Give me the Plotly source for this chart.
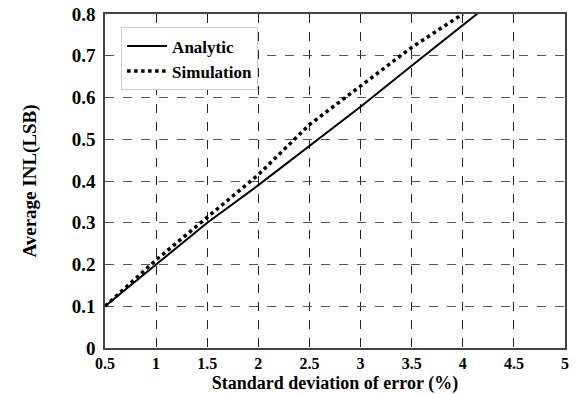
import plotly.graph_objects as go

x_analytic = [0.5, 1.0, 1.5, 2.0, 2.5, 3.0, 3.5, 4.0, 4.2]
y_analytic = [0.10, 0.199, 0.300, 0.390, 0.485, 0.578, 0.676, 0.775, 0.812]

x_sim = [0.5, 1.0, 1.5, 2.0, 2.5, 3.0, 3.5, 4.0]
y_sim = [0.10, 0.211, 0.313, 0.415, 0.535, 0.628, 0.720, 0.800]

x_ticks = [0.5, 1, 1.5, 2, 2.5, 3, 3.5, 4, 4.5, 5]
x_tick_labels = ["0.5", "1", "1.5", "2", "2.5", "3", "3.5", "4", "4.5", "5"]
y_ticks = [0, 0.1, 0.2, 0.3, 0.4, 0.5, 0.6, 0.7, 0.8]
y_tick_labels = ["0", "0.1", "0.2", "0.3", "0.4", "0.5", "0.6", "0.7", "0.8"]

font_family = "Liberation Serif, Times New Roman, serif"

fig = go.Figure()
fig.add_trace(go.Scatter(x=x_analytic, y=y_analytic, mode="lines", name="Analytic",
                         line=dict(color="black", width=2)))
fig.add_trace(go.Scatter(x=x_sim, y=y_sim, mode="lines", name="Simulation",
                         line=dict(color="black", width=3.5, dash="dot")))

fig.update_layout(
    width=578, height=394,
    margin=dict(l=105, r=13, t=14, b=46),
    paper_bgcolor="white", plot_bgcolor="white",
    font=dict(family=font_family, color="black", size=18),
    showlegend=True,
    legend=dict(x=0.035, y=0.96, xanchor="left", yanchor="top",
                bgcolor="white", bordercolor="#cccccc", borderwidth=1,
                font=dict(family=font_family, size=17, color="black", weight="bold"),
                itemwidth=40, tracegroupgap=0),
)

fig.update_xaxes(
    range=[0.5, 5], tickmode="array", tickvals=x_ticks, ticktext=x_tick_labels,
    showgrid=True, gridcolor="#222222", griddash="dash", gridwidth=1,
    showline=True, linecolor="#444444", linewidth=1.5, mirror=True,
    ticks="", zeroline=False, automargin=False,
    tickfont=dict(family=font_family, size=16, weight="bold"),
    title=dict(text="Standard deviation of error (%)", standoff=8,
               font=dict(family=font_family, size=18, weight="bold")),
)
fig.update_yaxes(
    range=[0, 0.8], tickmode="array", tickvals=y_ticks, ticktext=y_tick_labels,
    showgrid=True, gridcolor="#555555", griddash="dash", gridwidth=1,
    showline=True, linecolor="#444444", linewidth=1.5, mirror=True,
    ticks="", zeroline=False, automargin=False, ticklabelstandoff=4,
    tickfont=dict(family=font_family, size=19, weight="bold"),
    title=dict(text="Average INL(LSB)", standoff=30,
               font=dict(family=font_family, size=19, weight="bold")),
)

fig.write_html("out.html", config={"displayModeBar": False},
               post_script="document.body.style.margin='0';")
